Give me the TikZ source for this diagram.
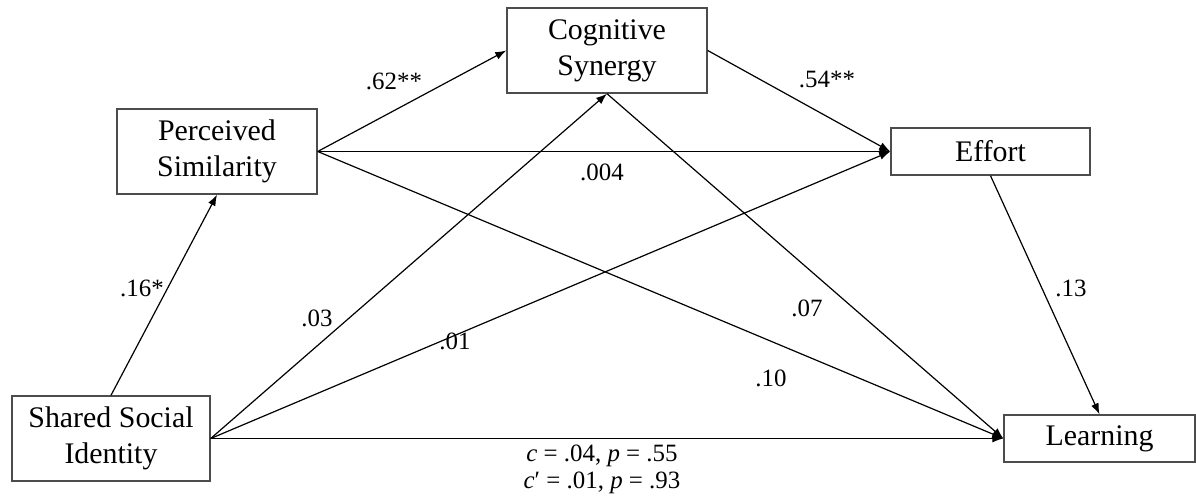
\documentclass[tikz,border=0pt]{standalone}
\usepackage{fontspec}
\setmainfont{Liberation Serif}
\usetikzlibrary{arrows.meta}
\tikzset{
  box/.style={draw=black!70, line width=1.4bp, fill=white, align=center, inner sep=0pt,
    font=\fontsize{30}{36}\selectfont},
  conn/.style={line width=1.2bp, -{Latex[length=11bp,width=8bp]}},
  lbl/.style={font=\fontsize{25}{27}\selectfont, inner sep=0pt},
}
\begin{document}
\begin{tikzpicture}[x=1bp,y=-1bp]
\useasboundingbox (0,0) rectangle (1196,502);
\node[box, minimum width=200bp, minimum height=85bp] (ps) at (217,151.5) {Perceived\\Similarity};
\node[box, minimum width=200bp, minimum height=85bp] (cs) at (607,50.5) {Cognitive\\Synergy};
\node[box, minimum width=199bp, minimum height=47bp] (ef) at (990.5,151.5) {Effort};
\node[box, minimum width=198bp, minimum height=85bp] (ssi) at (111,438.5) {Shared Social\\Identity};
\node[box, minimum width=191bp, minimum height=47bp] (le) at (1099.5,438.5) {Learning};

\draw[conn] (ssi.north) -- (ps.south);
\draw[conn] (ps.east) -- (cs.west);
\draw[conn] (ps.east) -- (ef.west);
\draw[conn] (ps.east) -- (le.west);
\draw[conn] (ssi.east) -- (cs.south);
\draw[conn] (ssi.east) -- (ef.west);
\draw[conn] (ssi.east) -- (le.west);
\draw[conn] (cs.east) -- (ef.west);
\draw[conn] (cs.south) -- (le.west);
\draw[conn] (ef.south) -- (le.north);

\node[lbl] (l62) at (394,81) {.62**};
\node[lbl] (l54) at (827,79) {.54**};
\node[lbl] (l004) at (602,172) {.004};
\node[lbl] (l16) at (142,288) {.16*};
\node[lbl] (l03) at (317,318) {.03};
\node[lbl] (l01) at (455,341) {.01};
\node[lbl] (l07) at (807,308) {.07};
\node[lbl] (l10) at (771,378) {.10};
\node[lbl] (l13) at (1071,288) {.13};
\node[lbl, align=center, font=\fontsize{25}{27}\selectfont] (lc) at (602,469)
  {\textit{c} = .04, \textit{p} = .55\\\textit{c}′ = .01, \textit{p} = .93};
\end{tikzpicture}
\end{document}
